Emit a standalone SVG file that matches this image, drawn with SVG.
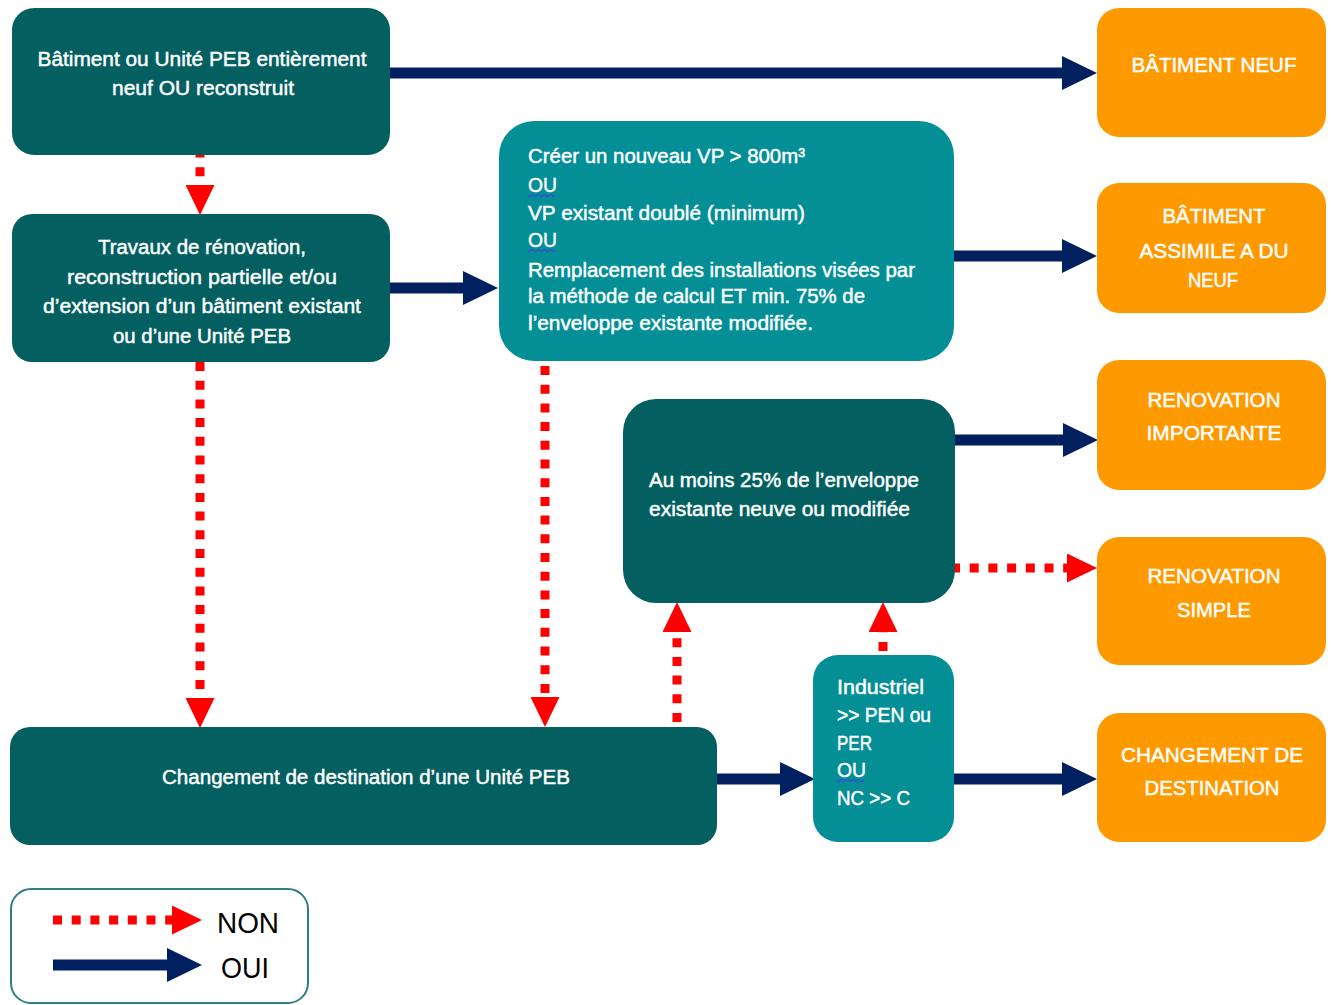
<svg xmlns="http://www.w3.org/2000/svg" width="1334" height="1005" viewBox="0 0 1334 1005">
  <style>
    .dk { fill: #045F61; }
    .lt { fill: #048F97; }
    .or { fill: #FF9900; }
    .t { font-family: "Liberation Sans", Arial, sans-serif; font-size: 20px; fill: #FFFFFF; stroke: #FFFFFF; stroke-width: 0.45; }
    .c { text-anchor: middle; }
    .yes { stroke: #002060; stroke-width: 11; fill: none; }
    .no { stroke: #FF0000; stroke-width: 9; stroke-dasharray: 9 9.7; fill: none; }
    .squig { stroke: #2F55C8; stroke-width: 1.4; fill: none; }
    .lg { font-family: "Liberation Sans", Arial, sans-serif; font-size: 29px; fill: #000000; }
  </style>
  <defs>
    <marker id="head-yes" markerUnits="userSpaceOnUse" markerWidth="35" markerHeight="34" viewBox="0 0 35 34" refX="0" refY="17" orient="auto">
      <path d="M0,0 L35,17 L0,34 Z" fill="#002060"/>
    </marker>
    <marker id="head-no" markerUnits="userSpaceOnUse" markerWidth="30" markerHeight="29" viewBox="0 0 30 29" refX="0" refY="14.5" orient="auto">
      <path d="M0,0 L30,14.5 L0,29 Z" fill="#FF0000"/>
    </marker>
  </defs>

  <rect width="1334" height="1005" fill="#FFFFFF"/>

  <!-- connectors -->
  <g id="connectors">
    <!-- OUI (solid navy) -->
    <path class="yes" d="M388,73 H1062" marker-end="url(#head-yes)"/>
    <path class="yes" d="M388,288 H463" marker-end="url(#head-yes)"/>
    <path class="yes" d="M952,256 H1062" marker-end="url(#head-yes)"/>
    <path class="yes" d="M952,440 H1063" marker-end="url(#head-yes)"/>
    <path class="yes" d="M715,779 H780" marker-end="url(#head-yes)"/>
    <path class="yes" d="M952,779 H1062" marker-end="url(#head-yes)"/>
    <!-- NON (dotted red) -->
    <path class="no" d="M200,148.5 V185" marker-end="url(#head-no)"/>
    <path class="no" d="M200,362 V698" marker-end="url(#head-no)"/>
    <path class="no" d="M545,366 V697" marker-end="url(#head-no)"/>
    <path class="no" d="M677,722 V632" marker-end="url(#head-no)"/>
    <path class="no" d="M883,651 V632" marker-end="url(#head-no)"/>
    <path class="no" d="M951,568 H1067" marker-end="url(#head-no)"/>
  </g>

  <!-- new or rebuilt -->
  <g id="n-neuf-reconstruit">
    <rect class="dk" x="12" y="8" width="378" height="147" rx="22"/>
    <text class="t c" x="202" y="66" textLength="329" lengthAdjust="spacingAndGlyphs">Bâtiment ou Unité PEB entièrement</text>
    <text class="t c" x="203" y="95" textLength="182" lengthAdjust="spacingAndGlyphs">neuf OU reconstruit</text>
  </g>

  <!-- renovation works -->
  <g id="n-travaux">
    <rect class="dk" x="12" y="214" width="378" height="148" rx="20"/>
    <text class="t c" x="202" y="254" textLength="208" lengthAdjust="spacingAndGlyphs">Travaux de rénovation,</text>
    <text class="t c" x="202" y="284" textLength="270" lengthAdjust="spacingAndGlyphs">reconstruction partielle et/ou</text>
    <text class="t c" x="202" y="313" textLength="318" lengthAdjust="spacingAndGlyphs">d’extension d’un bâtiment existant</text>
    <text class="t c" x="202" y="343" textLength="178" lengthAdjust="spacingAndGlyphs">ou d’une Unité PEB</text>
  </g>

  <!-- volume / installations criteria -->
  <g id="n-criteres-vp">
    <rect class="lt" x="499" y="121" width="455" height="240" rx="35"/>
    <text class="t" x="528" y="163" textLength="277" lengthAdjust="spacingAndGlyphs">Créer un nouveau VP &gt; 800m³</text>
    <text class="t" x="528" y="192" textLength="29" lengthAdjust="spacingAndGlyphs">OU</text>
    <path class="squig" d="M528,195.5 q1.5,2 3,0 t3,0 t3,0 t3,0 t3,0 t3,0 t3,0 t3,0 t3,0"/>
    <text class="t" x="528" y="220" textLength="277" lengthAdjust="spacingAndGlyphs">VP existant doublé (minimum)</text>
    <text class="t" x="528" y="247" textLength="29" lengthAdjust="spacingAndGlyphs">OU</text>
    <path class="squig" d="M528,250.5 q1.5,2 3,0 t3,0 t3,0 t3,0 t3,0 t3,0 t3,0 t3,0 t3,0"/>
    <text class="t" x="528" y="277" textLength="387" lengthAdjust="spacingAndGlyphs">Remplacement des installations visées par</text>
    <text class="t" x="528" y="303" textLength="337" lengthAdjust="spacingAndGlyphs">la méthode de calcul ET min. 75% de</text>
    <text class="t" x="528" y="330" textLength="285" lengthAdjust="spacingAndGlyphs">l’enveloppe existante modifiée.</text>
  </g>

  <!-- envelope share -->
  <g id="n-enveloppe">
    <rect class="dk" x="623" y="399" width="332" height="204" rx="33"/>
    <text class="t" x="649" y="487" textLength="270" lengthAdjust="spacingAndGlyphs">Au moins 25% de l’enveloppe</text>
    <text class="t" x="649" y="516" textLength="261" lengthAdjust="spacingAndGlyphs">existante neuve ou modifiée</text>
  </g>

  <!-- change of use -->
  <g id="n-changement">
    <rect class="dk" x="10" y="727" width="707" height="118" rx="20"/>
    <text class="t c" x="366" y="784" textLength="408" lengthAdjust="spacingAndGlyphs">Changement de destination d’une Unité PEB</text>
  </g>

  <!-- use categories -->
  <g id="n-industriel">
    <rect class="lt" x="813" y="655" width="141" height="187" rx="25"/>
    <text class="t" x="837" y="694" textLength="87" lengthAdjust="spacingAndGlyphs">Industriel</text>
    <text class="t" x="837" y="722" textLength="94" lengthAdjust="spacingAndGlyphs">&gt;&gt; PEN ou</text>
    <text class="t" x="837" y="750" textLength="35" lengthAdjust="spacingAndGlyphs">PER</text>
    <text class="t" x="837" y="777" textLength="29" lengthAdjust="spacingAndGlyphs">OU</text>
    <path class="squig" d="M837,780.5 q1.5,2 3,0 t3,0 t3,0 t3,0 t3,0 t3,0 t3,0 t3,0 t3,0"/>
    <text class="t" x="837" y="805" textLength="73" lengthAdjust="spacingAndGlyphs">NC &gt;&gt; C</text>
  </g>

  <!-- outcomes -->
  <g id="r-batiment-neuf">
    <rect class="or" x="1097" y="8" width="229" height="129" rx="22"/>
    <text class="t c" x="1214" y="72" textLength="165" lengthAdjust="spacingAndGlyphs">BÂTIMENT NEUF</text>
  </g>
  <g id="r-assimile-neuf">
    <rect class="or" x="1097" y="183" width="229" height="130" rx="22"/>
    <text class="t c" x="1214" y="223" textLength="103" lengthAdjust="spacingAndGlyphs">BÂTIMENT</text>
    <text class="t c" x="1214" y="258" textLength="149" lengthAdjust="spacingAndGlyphs">ASSIMILE A DU</text>
    <text class="t c" x="1213" y="287" textLength="50" lengthAdjust="spacingAndGlyphs">NEUF</text>
  </g>
  <g id="r-renovation-importante">
    <rect class="or" x="1097" y="360" width="229" height="130" rx="22"/>
    <text class="t c" x="1214" y="407" textLength="133" lengthAdjust="spacingAndGlyphs">RENOVATION</text>
    <text class="t c" x="1214" y="440" textLength="135" lengthAdjust="spacingAndGlyphs">IMPORTANTE</text>
  </g>
  <g id="r-renovation-simple">
    <rect class="or" x="1097" y="537" width="229" height="128" rx="22"/>
    <text class="t c" x="1214" y="583" textLength="133" lengthAdjust="spacingAndGlyphs">RENOVATION</text>
    <text class="t c" x="1214" y="617" textLength="74" lengthAdjust="spacingAndGlyphs">SIMPLE</text>
  </g>
  <g id="r-changement-destination">
    <rect class="or" x="1097" y="713" width="229" height="129" rx="22"/>
    <text class="t c" x="1212" y="762" textLength="182" lengthAdjust="spacingAndGlyphs">CHANGEMENT DE</text>
    <text class="t c" x="1212" y="795" textLength="135" lengthAdjust="spacingAndGlyphs">DESTINATION</text>
  </g>

  <!-- legend -->
  <g id="legend">
    <rect x="11" y="889" width="297" height="114" rx="20" fill="#FFFFFF" stroke="#2E7F81" stroke-width="2"/>
    <path class="no" d="M53,920 H172" stroke-dasharray="8.5 9.8" marker-end="url(#head-no)"/>
    <path class="yes" d="M53,965 H167" stroke-width="12" marker-end="url(#head-yes)"/>
    <text class="lg" x="217" y="933" textLength="62" lengthAdjust="spacingAndGlyphs">NON</text>
    <text class="lg" x="221" y="978" textLength="48" lengthAdjust="spacingAndGlyphs">OUI</text>
  </g>
</svg>
